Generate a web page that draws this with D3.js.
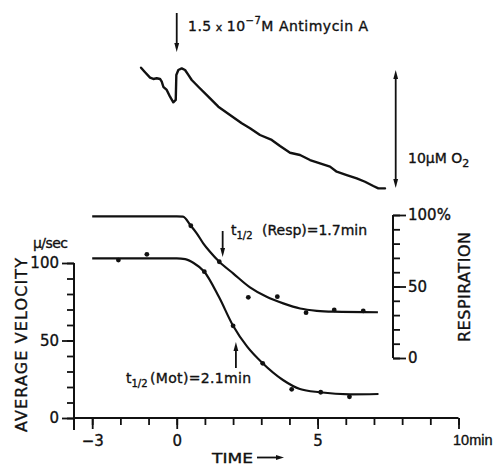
<!DOCTYPE html>
<html>
<head>
<meta charset="utf-8">
<script src="https://cdn.jsdelivr.net/npm/d3@7"></script>
<style>
  body { margin: 0; background: #fff; }
  svg { display: block; }
  text { font-family: "DejaVu Sans", "Liberation Sans", sans-serif; fill: #111; stroke: #111; stroke-width: 0.35px; }
</style>
</head>
<body>
<svg id="chart" width="494" height="466"></svg>
<script>
// ---- axis ticks ----
const timeTicks = d3.range(-3, 11);          // minutes
const timeLabels = [-3, 0, 5, 10];
const velTicks = d3.range(0, 101, 10);       // µ/sec
const velLabels = [0, 50, 100];
const respTicks = d3.range(0, 101, 10);      // % respiration
const respLabels = [0, 50, 100];

// ---- motility (average velocity, µ/sec) ----
const motT = [-2.07, -1.06, 0.98, 2.0, 3.05, 4.08, 5.11, 6.13];
const motV = [101.9, 105.6, 94.4, 59.5, 35.3, 18.5, 16.6, 13.7];
const motFitT = [-3.0, 0, 0.3, 0.6, 0.98, 1.5, 2.0, 2.5, 3.05, 3.77, 4.37, 5.08, 6.15, 7.16];
const motFitV = [103, 103, 102.5, 100, 94.4, 78, 59.5, 46, 35.3, 24.5, 18.7, 16.6, 15.3, 15.5];

// ---- respiration (% of control) ----
const respT = [0.5, 1.51, 2.54, 3.57, 4.59, 5.59, 6.62];
const respV = [92.5, 67.3, 42.4, 42.9, 31.7, 33.6, 32.9];
const respFitT = [-3.0, 0, 0.22, 0.5, 0.71, 0.94, 1.18, 1.51, 2.0, 2.6, 3.19, 3.78, 4.38, 4.97, 5.56, 7.14];
const respFitV = [99, 99, 98.8, 92.5, 87.2, 80.2, 74.3, 67.3, 59.2, 49.4, 42.8, 38.2, 34.6, 33.0, 32.4, 32.0];

// ---- oxygen electrode trace (µM O2, relative) ----
const o2T = [-1.267, -1.125, -0.947, -0.83, -0.71, -0.593, -0.532, -0.476, -0.355, -0.238, -0.121, -0.035,
             -0.014, 0.057, 0.177, 0.295, 0.412, 0.532, 0.767, 1.121, 1.476, 1.891, 2.307, 2.601, 2.956,
             3.371, 3.666, 4.021, 4.376, 4.731, 5.085, 5.44, 5.678, 6.033, 6.388, 6.682, 6.977, 7.154, 7.392];
const o2V = [10.19, 9.81, 9.35, 9.24, 9.30, 9.24, 9.01, 8.58, 8.31, 7.74, 7.26, 7.46,
             9.58, 10.0, 10.14, 10.0, 9.58, 9.15, 8.58, 7.74, 6.89, 6.19, 5.48, 5.06, 4.49,
             4.07, 3.56, 2.99, 2.80, 2.37, 2.09, 1.81, 1.38, 1.10, 0.82, 0.53, 0.17, -0.03, -0.03];
const o2Span = [0, 10];

const svg = d3.select("#chart");
const ink = "#111";

const x = d3.scaleLinear().domain([-3, 10]).range([92.2, 458.5]);
const yV = d3.scaleLinear().domain([0, 100]).range([418, 263]);
const yR = d3.scaleLinear().domain([0, 100]).range([358, 215]);
const yO = d3.scaleLinear().domain([0, 10]).range([188, 70]);

const axisLeftX = 74;
const axisRightX = 393;

function styleAxis(g) {
  g.select(".domain").remove();
  g.selectAll(".tick line").attr("stroke", ink).attr("stroke-width", 1.8);
  g.selectAll(".tick text").style("font-size", "15px").attr("fill", ink);
}

// ---- bottom time axis ----
svg.append("line")
  .attr("x1", axisLeftX).attr("x2", x(10))
  .attr("y1", yV(0)).attr("y2", yV(0))
  .attr("stroke", ink).attr("stroke-width", 2);
svg.append("g").attr("transform", `translate(0,${yV(0)})`)
  .call(d3.axisBottom(x).tickValues(timeTicks).tickSize(7).tickFormat(""))
  .call(styleAxis);
const xMajor = svg.append("g").attr("transform", `translate(0,${yV(0)})`)
  .call(d3.axisBottom(x).tickValues(timeLabels).tickSize(11).tickPadding(6)
    .tickFormat(d => d < 0 ? "\u2212" + Math.abs(d) : d === 10 ? "10min" : d))
  .call(styleAxis);
xMajor.selectAll(".tick text").filter(d => d === 10)
  .attr("text-anchor", "start").attr("dx", -6)
  .style("font-family", "'Liberation Sans', Arial, sans-serif")
  .style("font-size", "14.5px");

// ---- left velocity axis ----
svg.append("line")
  .attr("x1", axisLeftX).attr("x2", axisLeftX)
  .attr("y1", yV(100)).attr("y2", yV(0) + 12)
  .attr("stroke", ink).attr("stroke-width", 2);
svg.append("g").attr("transform", `translate(${axisLeftX},0)`)
  .call(d3.axisLeft(yV).tickValues(velTicks).tickSize(7).tickFormat(""))
  .call(styleAxis);
svg.append("g").attr("transform", `translate(${axisLeftX},0)`)
  .call(d3.axisLeft(yV).tickValues(velLabels).tickSize(12).tickPadding(3))
  .call(styleAxis);

// ---- right respiration axis ----
svg.append("line")
  .attr("x1", axisRightX).attr("x2", axisRightX)
  .attr("y1", yR(100)).attr("y2", yR(0))
  .attr("stroke", ink).attr("stroke-width", 2);
svg.append("g").attr("transform", `translate(${axisRightX},0)`)
  .call(d3.axisRight(yR).tickValues(respTicks).tickSize(7).tickFormat(""))
  .call(styleAxis);
svg.append("g").attr("transform", `translate(${axisRightX},0)`)
  .call(d3.axisRight(yR).tickValues(respLabels).tickSize(13).tickPadding(2)
    .tickFormat(d => d === 100 ? "100%" : d))
  .call(styleAxis);

// ---- axis titles ----
svg.append("text").attr("x", 33).attr("y", 248)
  .style("font-size", "14px").attr("textLength", 35).text("\u03BC/sec");
svg.append("text")
  .attr("transform", "translate(26.5,345) rotate(-90)")
  .attr("text-anchor", "middle").style("font-size", "16px")
  .attr("textLength", 174).text("AVERAGE VELOCITY");
svg.append("text")
  .attr("transform", "translate(469.5,287) rotate(-90)")
  .attr("text-anchor", "middle").style("font-size", "16px")
  .attr("textLength", 110).text("RESPIRATION");
svg.append("text").attr("x", 212).attr("y", 462.5)
  .style("font-size", "14px").attr("textLength", 41)
  .attr("lengthAdjust", "spacingAndGlyphs").text("TIME");

// arrow helper: shaft from (x1,y1) to tip (x2,y2)
function arrow(x1, y1, x2, y2, head = 7, half = 2.6) {
  const a = Math.atan2(y2 - y1, x2 - x1);
  const bx = x2 - head * Math.cos(a), by = y2 - head * Math.sin(a);
  svg.append("line").attr("x1", x1).attr("y1", y1).attr("x2", bx).attr("y2", by)
    .attr("stroke", ink).attr("stroke-width", 1.8);
  const px = -Math.sin(a) * half, py = Math.cos(a) * half;
  svg.append("path")
    .attr("d", `M${x2},${y2}L${bx + px},${by + py}L${bx - px},${by - py}Z`)
    .attr("fill", ink);
}
arrow(257, 457.5, 284, 457.5, 8, 2.6);

// ---- curves ----
const lineV = d3.line().x(d => x(d[0])).y(d => yV(d[1])).curve(d3.curveMonotoneX);
const lineR = d3.line().x(d => x(d[0])).y(d => yR(d[1])).curve(d3.curveMonotoneX);
const lineO = d3.line().x(d => x(d[0])).y(d => yO(d[1])).curve(d3.curveLinear);

svg.append("path").datum(d3.zip(motFitT, motFitV)).attr("d", lineV)
  .attr("fill", "none").attr("stroke", ink).attr("stroke-width", 2.2);
svg.append("path").datum(d3.zip(respFitT, respFitV)).attr("d", lineR)
  .attr("fill", "none").attr("stroke", ink).attr("stroke-width", 2.2);

svg.selectAll("circle.mot").data(d3.zip(motT, motV)).join("circle")
  .attr("class", "mot").attr("cx", d => x(d[0])).attr("cy", d => yV(d[1]))
  .attr("r", 2.4).attr("fill", ink);
svg.selectAll("circle.resp").data(d3.zip(respT, respV)).join("circle")
  .attr("class", "resp").attr("cx", d => x(d[0])).attr("cy", d => yR(d[1]))
  .attr("r", 2.4).attr("fill", ink);

// ---- half-time annotations ----
arrow(x(1.63), 231, x(1.63), 257, 9, 2.4);
const tr = svg.append("text").attr("x", 231).attr("y", 235).style("font-size", "14px");
tr.append("tspan").text("t");
tr.append("tspan").attr("dy", 4).style("font-size", "10px").text("1/2");
tr.append("tspan").attr("x", 262).attr("dy", -4).attr("textLength", 105).text("(Resp)=1.7min");

arrow(x(2.1), 368, x(2.1), 342, 9, 2.4);
const tm = svg.append("text").attr("x", 126).attr("y", 383).style("font-size", "14px");
tm.append("tspan").text("t");
tm.append("tspan").attr("dy", 4).style("font-size", "10px").text("1/2");
tm.append("tspan").attr("x", 150).attr("dy", -4).attr("textLength", 101).text("(Mot)=2.1min");

// ---- oxygen trace ----
svg.append("path").datum(d3.zip(o2T, o2V)).attr("d", lineO)
  .attr("fill", "none").attr("stroke", ink).attr("stroke-width", 2.4)
  .attr("stroke-linejoin", "round").attr("stroke-linecap", "round");

// 10 µM scale bar with heads at both ends
const barX = 395.7;
const midY = (yO(o2Span[0]) + yO(o2Span[1])) / 2;
arrow(barX, midY, barX, yO(o2Span[1]), 9, 2.4);
arrow(barX, midY, barX, yO(o2Span[0]), 9, 2.4);
const o2l = svg.append("text").attr("x", 408).attr("y", 163).style("font-size", "14px");
o2l.append("tspan").text("10\u03BCM O");
o2l.append("tspan").attr("dy", 4).style("font-size", "11px").text("2");

// antimycin addition
arrow(x(0), 13, x(0), 52, 9, 2.4);
const ab = svg.append("text").attr("x", 188).attr("y", 31)
  .style("font-size", "14px").style("letter-spacing", "0.5px");
ab.append("tspan").text("1.5");
ab.append("tspan").style("font-size", "11px").text(" x ");
ab.append("tspan").text("10");
ab.append("tspan").attr("dy", -7).style("font-size", "10px").text("\u22127");
ab.append("tspan").attr("dy", 7).text("M Antimycin A");
</script>
</body>
</html>
